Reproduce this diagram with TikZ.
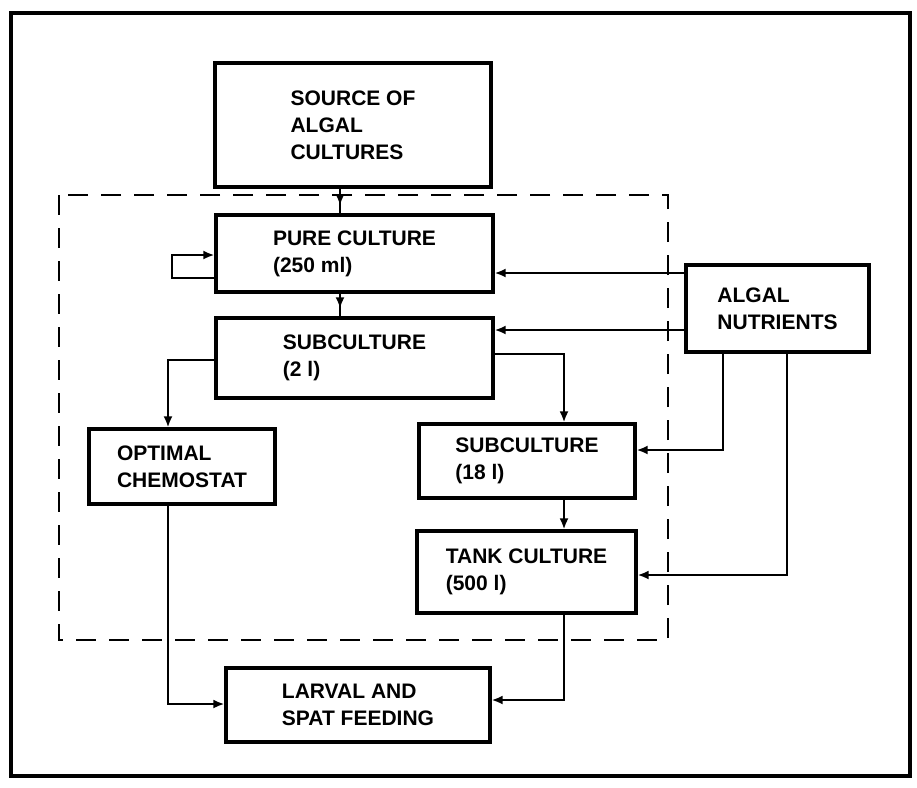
\documentclass[tikz,border=0pt]{standalone}
\usepackage{fontspec}
\setmainfont{Liberation Sans}
\usetikzlibrary{arrows.meta,decorations.markings}
\begin{document}
\begin{tikzpicture}[x=1pt,y=-1pt,
  box/.style={draw, line width=3.2pt, inner sep=0pt, align=left,
    font=\fontsize{21}{27}\selectfont\bfseries},
  conn/.style={line width=2.6pt, -{Latex[length=11pt,width=9pt]}},
  midarr/.style={line width=2.6pt,
    decoration={markings, mark=at position -8pt with {\arrow{Latex[length=11pt,width=9pt]}}},
    postaction={decorate}},
  frame/.style={draw, line width=3.4pt},
  zone/.style={draw, line width=2.2pt, dash pattern=on 20pt off 13pt}]
\useasboundingbox (0,0) rectangle (917,787);
% outer frame and dashed zone
\draw[frame] (11,13) rectangle (910,776);
\draw[zone] (59,195) rectangle (668,640);
% boxes
\node[box, minimum width=276pt, minimum height=124pt] (src) at (353,125) {SOURCE OF\\ALGAL\\CULTURES};
\node[box, minimum width=277pt, minimum height=77pt] (pure) at (354.5,253.5) {PURE CULTURE\\(250 ml)};
\node[box, minimum width=277pt, minimum height=80pt] (sub2) at (354.5,358) {SUBCULTURE\\(2 l)};
\node[box, minimum width=183pt, minimum height=87pt] (nut) at (777.5,308.5) {ALGAL\\NUTRIENTS};
\node[box, minimum width=186pt, minimum height=75pt] (opt) at (182,466.5) {OPTIMAL\\CHEMOSTAT};
\node[box, minimum width=216pt, minimum height=74pt] (sub18) at (527,461) {SUBCULTURE\\(18 l)};
\node[box, minimum width=219pt, minimum height=82pt] (tank) at (526.5,572) {TANK CULTURE\\(500 l)};
\node[box, minimum width=264pt, minimum height=74pt] (larv) at (358,705) {LARVAL AND\\SPAT FEEDING};
% lanes and levels
\coordinate (xa) at (340,0);
\coordinate (xb) at (168,0);
\coordinate (xc) at (564,0);
\coordinate (xd) at (723,0);
\coordinate (xe) at (787,0);
\coordinate (lp1) at (172,278);
\coordinate (lp2) at (172,255);
\coordinate (ypure) at (0,273);
\coordinate (ysub2) at (0,330);
\coordinate (yopt) at (0,360);
\coordinate (y18) at (0,354);
\coordinate (ynut18) at (0,450);
\coordinate (ynuttank) at (0,575);
\coordinate (ylarvw) at (0,704);
\coordinate (ylarve) at (0,700);
% connectors
\draw[midarr] (src.south -| xa) -- (pure.north -| xa);
\draw[midarr] (pure.south -| xa) -- (sub2.north -| xa);
\draw[conn] (pure.west |- lp1) -- (lp1) -- (lp2) -- (pure.west |- lp2);
\draw[conn] (nut.west |- ypure) -- (pure.east |- ypure);
\draw[conn] (nut.west |- ysub2) -- (sub2.east |- ysub2);
\draw[conn] (sub2.west |- yopt) -| (opt.north -| xb);
\draw[conn] (sub2.east |- y18) -| (sub18.north -| xc);
\draw[conn] (sub18.south -| xc) -- (tank.north -| xc);
\draw[conn] (nut.south -| xd) |- (sub18.east |- ynut18);
\draw[conn] (nut.south -| xe) |- (tank.east |- ynuttank);
\draw[conn] (opt.south -| xb) |- (larv.west |- ylarvw);
\draw[conn] (tank.south -| xc) |- (larv.east |- ylarve);
\end{tikzpicture}
\end{document}
